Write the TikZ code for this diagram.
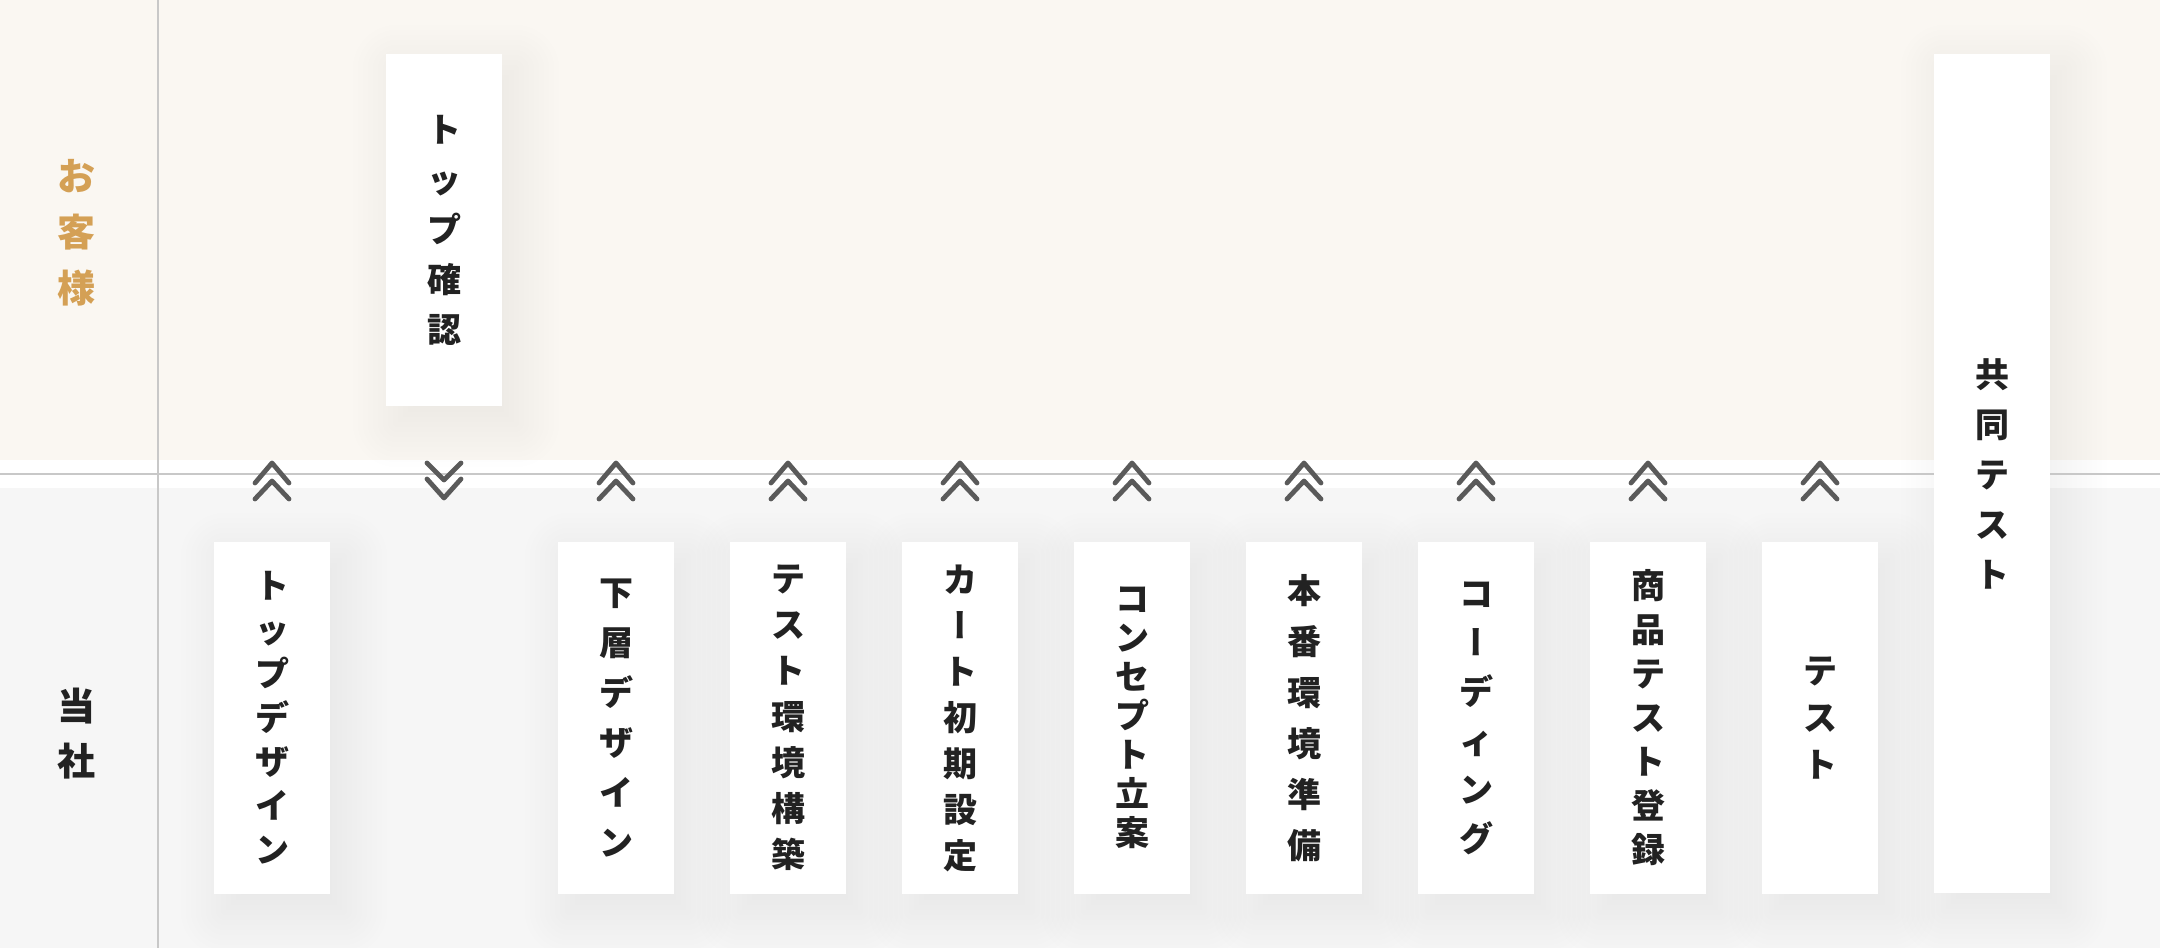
\documentclass[tikz,border=0pt]{standalone}
\usepackage{fontspec}
\newfontfamily\cjk{Noto Sans CJK JP}
\newfontfamily\cjkv{Noto Sans CJK JP}[RawFeature=+vert]
\usepackage{tikz}
\usetikzlibrary{backgrounds}
\definecolor{custbg}{HTML}{FAF7F2}
\definecolor{selfbg}{HTML}{F6F6F6}
\definecolor{gold}{HTML}{D4A055}
\definecolor{ink}{HTML}{222222}
\definecolor{chev}{HTML}{5A5A5A}
\definecolor{rule}{HTML}{C8C8C8}
\tikzset{x=0.5pt, y=-0.5pt,
stepbox/.style={ % white task card
fill=white, text=ink, align=center,
minimum width=58pt, minimum height=176pt, inner sep=0pt},
tate/.style={font=\cjk\bfseries\fontsize{17pt}{#1}\selectfont},
lane/.style={align=center, font=\cjk\bfseries\fontsize{19pt}{#1}\selectfont},
softshadow/.style={black, opacity=0.005},
chevron/.style={draw=chev, line width=2.4pt, line cap=round, line join=round},
upchev/.pic={
\draw[chevron] (-17,2) -- (0,-18) -- (17,2);
\draw[chevron] (-17,18) -- (0,0) -- (17,18);},
downchev/.pic={
\draw[chevron] (-17,-18) -- (0,-1) -- (17,-18);
\draw[chevron] (-17,-2) -- (0,17) -- (17,-2);}}

\begin{document}
\begin{tikzpicture}
\useasboundingbox (0,0) rectangle (2160,948);
\draw[rule, line width=1pt] (0,474) -- (2160,474);
\draw[rule, line width=1pt] (158,0) -- (158,948);
% lanes
\node[lane=28pt, text=gold] (cust) at (76,233) {お\\客\\様};
\node[lane=27.5pt, text=ink] (self) at (76,733.5) {当\\社};
% tasks
\node[stepbox, tate=22pt] (td) at (272,718) {ト\\ッ\\プ\\デ\\ザ\\イ\\ン};
\node[stepbox, tate=25pt] (tk) at (444,230) {ト\\ッ\\プ\\確\\認};
\node[stepbox, tate=25pt] (kd) at (616,718) {下\\層\\デ\\ザ\\イ\\ン};
\node[stepbox, tate=23pt] (tkk) at (788,718) {テ\\ス\\ト\\環\\境\\構\\築};
\node[stepbox, tate=23pt] (cart) at (960,718) {カ\\{\cjkv ー}\\ト\\初\\期\\設\\定};
\node[stepbox, tate=19.5pt] (concept) at (1132,718) {コ\\ン\\セ\\プ\\ト\\立\\案};
\node[stepbox, tate=25.5pt] (honban) at (1304,718) {本\\番\\環\\境\\準\\備};
\node[stepbox, tate=24.5pt] (coding) at (1476,718) {コ\\{\cjkv ー}\\デ\\ィ\\ン\\グ};
\node[stepbox, tate=22pt] (shohin) at (1648,718) {商\\品\\テ\\ス\\ト\\登\\録};
\node[stepbox, tate=23.5pt] (test) at (1820,718) {テ\\ス\\ト};
\node[stepbox, tate=25pt, minimum height=419.5pt] (kyodo) at (1992,473.5) {共\\同\\テ\\ス\\ト};
% backgrounds and card shadows
\begin{scope}[on background layer]
\fill[custbg] (0,0) rectangle (2160,460);
\fill[white] (0,460) rectangle (2160,488);
\fill[selfbg] (0,488) rectangle (2160,948);
\foreach \n in {td,tk,kd,tkk,cart,concept,honban,coding,shohin,test,kyodo}
\foreach \e in {-20,-15,...,45} {
\pgfmathsetmacro\r{max(\e,1)*0.5}
\fill[softshadow, rounded corners=\r pt]
([shift={({12-(\e)},{16-(\e)})}]\n.north west) rectangle
([shift={({12+\e},{16+\e})}]\n.south east);
}
\end{scope}
% hand-overs
\coordinate (handover) at (0,481);
\foreach \n in {td,kd,tkk,cart,concept,honban,coding,shohin,test}
\pic at (\n |- handover) {upchev};
\pic at (tk |- handover) {downchev};
\end{tikzpicture}
\end{document}
